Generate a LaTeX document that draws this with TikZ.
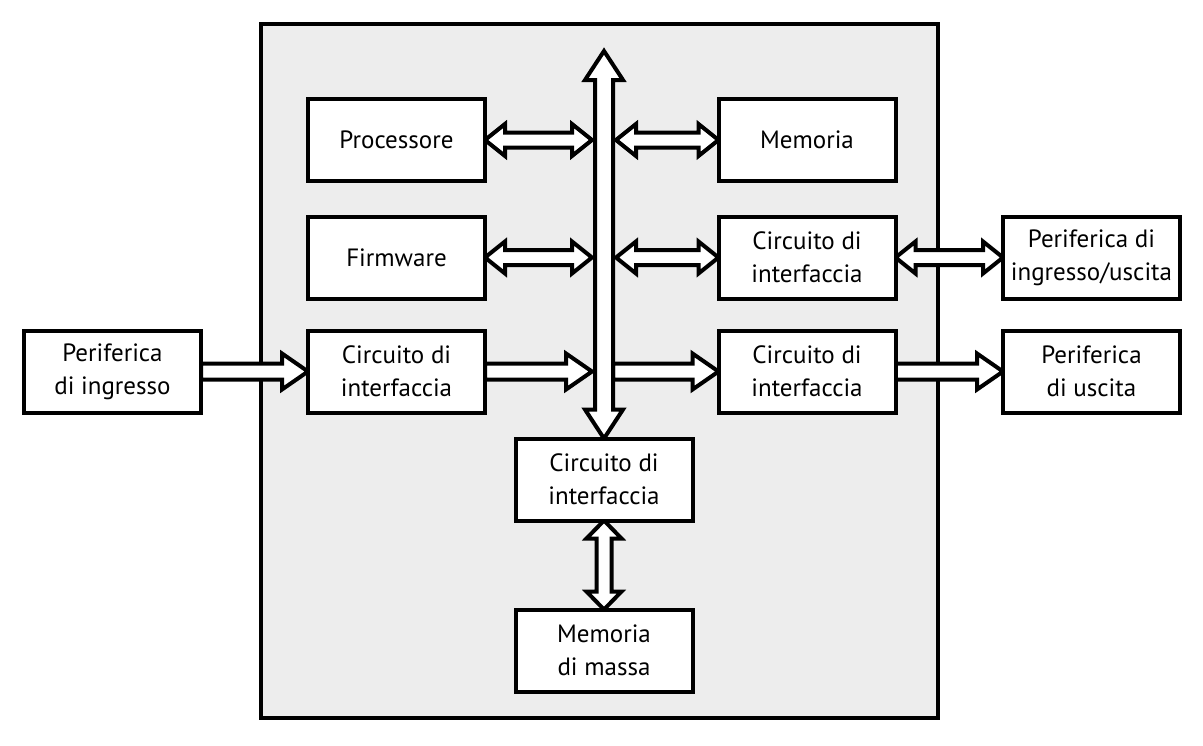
\documentclass[tikz,border=0pt]{standalone}
\usepackage{fontspec}
\setmainfont{PT Sans}
\usetikzlibrary{calc}

\pgfdeclarelayer{back}
\pgfdeclarelayer{mid}
\pgfsetlayers{back,mid,main}

\tikzset{
  block/.style={draw, line width=4pt, fill=white, outer sep=0pt, inner sep=0pt,
    minimum width=177pt, minimum height=82pt, align=center,
    font=\fontsize{25}{33}\selectfont},
  bigarrow/.style={draw, line width=4pt, fill=white},
}

% horizontal single arrow from #1 to #2
\newcommand\hsarrow[2]{%
  \draw[bigarrow] let \p1=(#1), \p2=(#2) in
    ({\x1},{\y1+8pt}) -- ({\x2-26pt},{\y1+8pt}) -- ({\x2-26pt},{\y1+18pt}) --
    ({\x2},{\y1}) -- ({\x2-26pt},{\y1-18pt}) -- ({\x2-26pt},{\y1-8pt}) --
    ({\x1},{\y1-8pt}) -- cycle;}
% horizontal double arrow from #1 to #2
\newcommand\hdarrow[2]{%
  \draw[bigarrow] let \p1=(#1), \p2=(#2) in
    ({\x1},{\y1}) -- ({\x1+20pt},{\y1+16pt}) -- ({\x1+20pt},{\y1+7.5pt}) --
    ({\x2-20pt},{\y1+7.5pt}) -- ({\x2-20pt},{\y1+16pt}) -- ({\x2},{\y1}) --
    ({\x2-20pt},{\y1-16pt}) -- ({\x2-20pt},{\y1-7.5pt}) --
    ({\x1+20pt},{\y1-7.5pt}) -- ({\x1+20pt},{\y1-16pt}) -- cycle;}
% vertical double arrow from #1 (top) to #2 (bottom); shaft, head, length
\newcommand\vdarrow[5]{%
  \draw[bigarrow] let \p1=(#1), \p2=(#2) in
    ({\x1},{\y1}) -- ({\x1+#4},{\y1-#5}) -- ({\x1+#3},{\y1-#5}) --
    ({\x1+#3},{\y2+#5}) -- ({\x1+#4},{\y2+#5}) -- ({\x1},{\y2}) --
    ({\x1-#4},{\y2+#5}) -- ({\x1-#3},{\y2+#5}) --
    ({\x1-#3},{\y1-#5}) -- ({\x1-#4},{\y1-#5}) -- cycle;}

\begin{document}
\begin{tikzpicture}[x=1pt,y=-1pt]
  \useasboundingbox (0,0) rectangle (1203,745);

  \node[block] (proc)   at (396.5,140)   {Processore};
  \node[block] (mem)    at (807,140)     {Memoria};
  \node[block] (firm)   at (396.5,257.5) {Firmware};
  \node[block] (ifio)   at (807,257.5)   {Circuito di\\interfaccia};
  \node[block] (perio)  at (1091.5,257.5){Periferica di\\ingresso/uscita};
  \node[block] (perin)  at (112.5,371.5) {Periferica\\di ingresso};
  \node[block] (ifin)   at (396.5,371.5) {Circuito di\\interfaccia};
  \node[block] (ifout)  at (807,371.5)   {Circuito di\\interfaccia};
  \node[block] (perout) at (1091.5,371.5){Periferica\\di uscita};
  \node[block] (ifmass) at (604,479.5)   {Circuito di\\interfaccia};
  \node[block] (mass)   at (604,650.5)   {Memoria\\di massa};

  \coordinate (bustop) at (604,51);
  \coordinate (busL) at (592,0);
  \coordinate (busR) at (616,0);
  \coordinate (busE) at (613,0);

  \begin{pgfonlayer}{back}
    \draw[line width=4pt, fill=black!7] (261,24) rectangle (938,718);
  \end{pgfonlayer}

  \begin{pgfonlayer}{mid}
    \hdarrow{proc.east}{proc.east -| busL}
    \hdarrow{firm.east}{firm.east -| busL}
    \hsarrow{ifin.east}{ifin.east -| busL}
    \hdarrow{mem.west -| busR}{mem.west}
    \hdarrow{ifio.west -| busR}{ifio.west}
    \hsarrow{ifout.west -| busE}{ifout.west}
    \hsarrow{perin.east}{ifin.west}
    \hdarrow{ifio.east}{perio.west}
    \hsarrow{ifout.east}{perout.west}
    % bus
    \vdarrow{bustop}{ifmass.north}{9pt}{19pt}{29pt}
    \vdarrow{ifmass.south}{mass.north}{7.5pt}{17.5pt}{18pt}
  \end{pgfonlayer}
\end{tikzpicture}
\end{document}
